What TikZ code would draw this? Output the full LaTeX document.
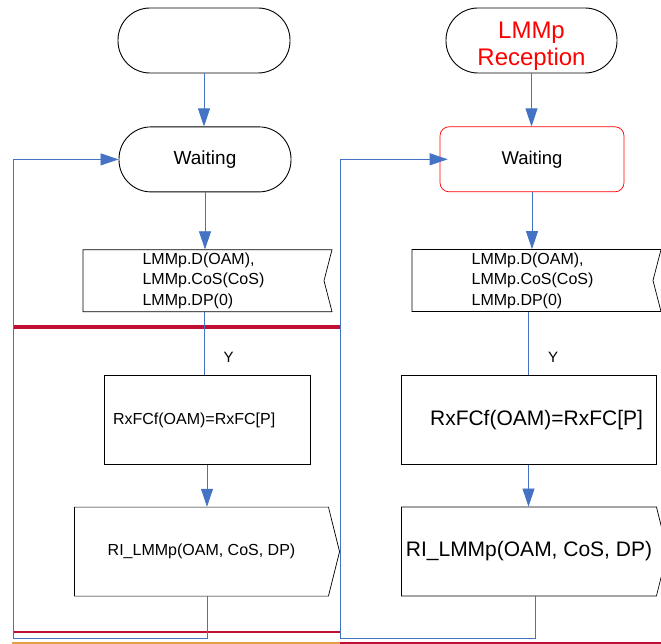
\documentclass[tikz,border=0pt]{standalone}
\usepackage{fontspec}
\setmainfont{Liberation Sans}
\usetikzlibrary{shapes,shapes.symbols,arrows.meta,positioning}
\definecolor{linkblue}{RGB}{68,114,196}
\definecolor{barred}{RGB}{192,14,52}
\definecolor{barorange}{RGB}{226,160,70}

\begin{document}
\begin{tikzpicture}[x=1pt, y=-1pt,
    term/.style={rectangle, draw, line width=0.9pt, rounded corners=32pt, minimum width=172pt, minimum height=65pt, align=center, font=\fontsize{19}{22}\selectfont},
    redterm/.style={term, draw=red, line width=0.7pt, rounded corners=9pt, minimum width=184pt, font=\fontsize{18.5}{22}\selectfont},
    insig/.style={signal, signal to=nowhere, signal from=east, signal pointer angle=151, draw, line width=0.7pt, minimum width=249pt, minimum height=62pt, inner sep=0pt, align=left, font=\fontsize{16}{20.5}\selectfont},
    proc/.style={rectangle, draw, line width=0.7pt, minimum height=89pt, inner xsep=9pt},
    outsig/.style={signal, signal to=east, signal pointer angle=152, draw, line width=0.7pt, minimum height=89pt, inner sep=0pt},
    arr/.style={->, draw=linkblue, line width=0.8pt, >={Triangle[length=18pt, width=12pt]}},
    conn/.style={draw=linkblue, line width=0.8pt},
    bar/.style={draw=barred, line width=3.5pt}]

    \useasboundingbox (0,0) rectangle (661,644);

    \node[term] (startL) at (204,40.5) {};
    \node[term, below=53pt of startL, xshift=1pt] (waitL) {Waiting};
    \node[insig, below=57pt of waitL, xshift=-1.5pt] (sigL) {LMMp.D(OAM),\\LMMp.CoS(CoS)\\LMMp.DP(0)};
    \node[proc, minimum width=206pt, text width=188pt, align=left, font=\fontsize{16}{19}\selectfont, below=63pt of sigL, xshift=3.5pt] (boxL) {RxFCf(OAM)=RxFC[P]};
    \node[outsig, minimum width=265pt, font=\fontsize{16}{19}\selectfont, below=42pt of boxL, xshift=-5.5pt] (riL) {RI\_LMMp(OAM, CoS, DP)};

    \node[term, text=red, font=\fontsize{24}{27}\selectfont, text height=54pt, inner ysep=0pt, minimum width=171pt] (startR) at (531.5,40.5) {LMMp\\Reception};
    \node[redterm, below=53pt of startR, xshift=0.5pt] (waitR) {Waiting};
    \node[insig, below=57pt of waitR, xshift=0.5pt] (sigR) {LMMp.D(OAM),\\LMMp.CoS(CoS)\\LMMp.DP(0)};
    \node[proc, minimum width=255pt, text width=229pt, inner xsep=13pt, align=right, font=\fontsize{21}{25}\selectfont, below=63pt of sigR, xshift=-4pt] (boxR) {RxFCf(OAM)=RxFC[P]};
    \node[outsig, minimum width=266pt, font=\fontsize{21}{25}\selectfont, below=42pt of boxR, xshift=0.5pt] (riR) {RI\_LMMp(OAM, CoS, DP)};

    \coordinate (loopL) at (13,638);
    \coordinate (loopR) at (340,638);

    \draw[bar] (13,327) -- (340,327);
    \draw[bar, line width=2pt] (13,632) -- (340,632);
    \draw[draw=barorange, line width=1.5pt] (12,643) -- (340,643);
    \draw[draw=barred, line width=1.5pt] (340,643) -- (661,643);

    \draw[arr] (startL.south) -- (startL.south |- waitL.north);
    \draw[arr] (waitL.south) -- (waitL.south |- sigL.north);
    \draw[conn] ([xshift=-3pt]boxL.north |- sigL.south) -- node[pos=0.72, right=16pt, text=black, font=\fontsize{15}{18}\selectfont] {Y} ([xshift=-3pt]boxL.north);
    \draw[arr] (boxL.south) -- (boxL.south |- riL.north);
    \draw[arr] ([xshift=6pt]riL.south) |- (loopL) |- (waitL.west);

    \draw[arr] (startR.south) -- (startR.south |- waitR.north);
    \draw[arr] (waitR.south) -- (waitR.south |- sigR.north);
    \draw[conn] (boxR.north |- sigR.south) -- node[pos=0.72, right=16pt, text=black, font=\fontsize{15}{18}\selectfont] {Y} (boxR.north);
    \draw[arr] (boxR.south) -- (boxR.south |- riR.north);
    \draw[arr, shorten >=-8pt] ([xshift=6.5pt]riR.south) |- (loopR) |- (waitR.west);
\end{tikzpicture}
\end{document}
